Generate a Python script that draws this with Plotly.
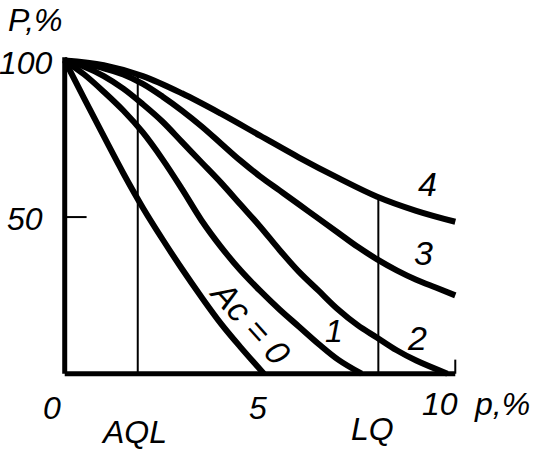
import numpy as np
import plotly.graph_objects as go

# ---- data (p, % defective  ->  P, % probability of acceptance) ----
p_ac0 = [0, 0.5, 1.0, 1.5, 2.0, 2.5, 3.0, 3.5, 4.0, 4.5, 5.1]
P_ac0 = [100, 87.8, 75.8, 64, 53, 43, 33.5, 24.5, 16, 8.5, 0]

p_ac1 = [0, 0.5, 1.0, 1.5, 2.0, 2.5, 3.0, 3.5, 4.0, 4.5, 5.0, 5.5, 6.0, 6.5, 7.0, 7.6]
P_ac1 = [100, 95.5, 90, 84, 77, 68.5, 59, 49, 40.5, 33, 26.5, 20.5, 15, 9.5, 4.5, 0]

p_ac2 = [0, 0.5, 1.0, 1.5, 2.0, 2.5, 3.0, 3.5, 4.0, 4.5, 5.0, 5.5, 6.0, 6.5, 7.0, 7.5, 8.0, 8.5, 9.0, 9.8]
P_ac2 = [100, 98, 95, 91, 86, 80.5, 74, 67.5, 61, 54, 47, 39.5, 32.5, 26.5, 20.5, 15.5, 11.5, 7.5, 4.2, 0]

p_ac3 = [0, 1, 1.5, 2, 2.5, 3, 3.5, 4, 4.5, 5, 5.5, 6, 6.5, 7, 7.5, 8, 8.5, 9, 9.5, 10]
P_ac3 = [100, 97.5, 95.5, 92.5, 88.5, 84, 79, 73.5, 68, 63, 58.5, 54, 49.5, 45, 40.5, 36.5, 33, 30, 27.5, 25]

p_ac4 = [0, 1, 2, 3, 4, 5, 6, 7, 8, 9, 10]
P_ac4 = [100, 98.5, 95, 89.5, 83, 76, 69, 62.5, 56.5, 52, 48.5]

AQL = 1.87
LQ = 8.03

x_ticks = [0, 5, 10]
x_tick_labels = ["0", "5", "10"]
y_ticks = [50, 100]
y_tick_labels = ["50", "100"]

curve_labels = ["1", "2", "3", "4"]

XR = [-0.3, 10.3]
YR = [-2, 103]

FONT = dict(family="Liberation Sans, Arial, sans-serif", size=32, color="black", style="italic")

fig = go.Figure()
for px_, py_ in [(p_ac0, P_ac0), (p_ac1, P_ac1), (p_ac2, P_ac2), (p_ac3, P_ac3), (p_ac4, P_ac4)]:
    fig.add_trace(go.Scatter(x=px_, y=py_, mode="lines",
                             line=dict(color="black", width=6, shape="spline", smoothing=1.0),
                             showlegend=False, hoverinfo="skip", cliponaxis=False))

top_aql = float(np.interp(AQL, p_ac4, P_ac4))
top_lq = float(np.interp(LQ, p_ac4, P_ac4))

shapes = [
    dict(type="line", x0=0, y0=0, x1=0, y1=101, line=dict(color="black", width=5)),
    dict(type="line", x0=0, y0=0, x1=10, y1=0, line=dict(color="black", width=5)),
    dict(type="line", x0=AQL, y0=0, x1=AQL, y1=top_aql, line=dict(color="black", width=2)),
    dict(type="line", x0=LQ, y0=0, x1=LQ, y1=top_lq, line=dict(color="black", width=2)),
    dict(type="line", x0=0, y0=50, x1=0.56, y1=50, line=dict(color="black", width=2)),
    dict(type="line", x0=10, y0=0, x1=10, y1=4.5, line=dict(color="black", width=2)),
]

def xp(v):
    return (v - XR[0]) / (XR[1] - XR[0])

def yp(v):
    return (v - YR[0]) / (YR[1] - YR[0])

ann = []
def T(text, x, y, size=32, angle=0, xanchor="center", yanchor="middle"):
    f = dict(FONT)
    f["size"] = size
    ann.append(dict(text=text, x=xp(x), y=yp(y), xref="paper", yref="paper", showarrow=False,
                    font=f, textangle=angle, xanchor=xanchor, yanchor=yanchor))

# y tick labels (right-aligned left of axis)
T(y_tick_labels[0], -0.5, y_ticks[0] - 0.5, xanchor="right")
T(y_tick_labels[1], -0.25, y_ticks[1] - 0.8, xanchor="right")
# x tick labels
T(x_tick_labels[0], -0.33, -11)
T(x_tick_labels[1], 4.95, -11)
T(x_tick_labels[2], 9.6, -9.5)

T("P,%", -0.75, 113)
T("p,%", 11.2, -9.5)
T("AQL", AQL - 0.1, -18.5)
T("LQ", LQ - 0.15, -17.5)

# curve labels
T(curve_labels[3], 9.28, 60.5, size=34)
T(curve_labels[2], 9.18, 38.5, size=34)
T(curve_labels[1], 9.02, 11.5, size=34)
T(curve_labels[0], 6.9, 13.5, size=32)
T("Ac = 0", 4.75, 16.5, size=34, angle=48)

fig.update_layout(
    width=547, height=458,
    margin=dict(l=53.3, r=80.3, t=50.6, b=77.7),
    paper_bgcolor="white", plot_bgcolor="white",
    xaxis=dict(range=XR, visible=False, fixedrange=True),
    yaxis=dict(range=YR, visible=False, fixedrange=True),
    shapes=shapes, annotations=ann, showlegend=False,
)

fig.write_html("out.html", config={"displayModeBar": False},
               post_script="document.body.style.margin='0px';document.body.style.overflow='hidden';")
